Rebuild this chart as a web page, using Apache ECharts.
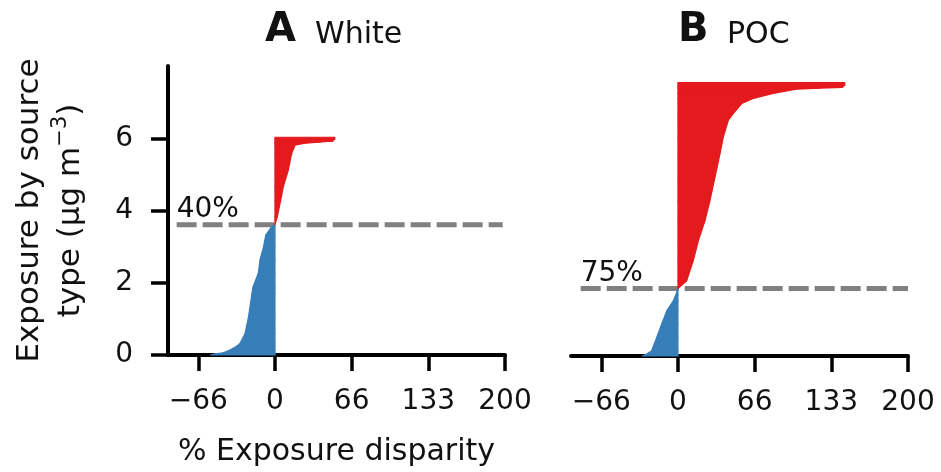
<!DOCTYPE html>
<html lang="en">

<head>
    <meta charset="UTF-8">
    <script src="https://cdn.jsdelivr.net/npm/echarts@6.0.0/dist/echarts.min.js"></script>
    <title>Exposure disparity</title>
    <style>
        html, body { margin: 0; padding: 0; background: #fff; }
        #chart { width: 941px; height: 472px; }
    </style>
</head>

<body>
    <div id="chart"></div>

    <script type="text/javascript">
        // tick positions / labels
        var xTicks = [-200 / 3, 0, 200 / 3, 400 / 3, 200];
        var yTicks = [0, 2, 4, 6];

        // panel A (White): cumulative exposure (y) against disparity (x)
        var whiteBlueX = [-56, -52, -45, -39, -33, -30.5, -26, -23, -20, -19, -14.5, -13, -10, -8, -3, 0];
        var whiteBlueY = [0, 0.03, 0.06, 0.14, 0.25, 0.32, 0.6, 1.06, 1.71, 1.9, 2.27, 2.64, 3.0, 3.33, 3.56, 3.62];
        var whiteRedX = [0, 2, 5, 7.3, 11.6, 14.5, 17.4, 24.7, 40, 50, 52, 52];
        var whiteRedY = [3.62, 3.84, 4.3, 4.68, 5.14, 5.6, 5.83, 5.88, 5.92, 5.94, 6.0, 6.05];

        // panel B (POC)
        var pocBlueX = [-31, -28.7, -23, -18.5, -14.2, -9.8, -4, -2, 0];
        var pocBlueY = [0, 0.03, 0.14, 0.51, 0.88, 1.25, 1.53, 1.68, 1.87];
        var pocRedX = [0, 7.5, 13.3, 17.7, 23.5, 27.8, 32.2, 36.5, 39.4, 43.8, 48, 55.4, 65.5, 82.9, 103, 123.5, 143, 145, 145];
        var pocRedY = [1.87, 2.08, 2.64, 3.19, 3.75, 4.3, 4.95, 5.6, 6.06, 6.53, 6.71, 6.99, 7.13, 7.27, 7.39, 7.42, 7.44, 7.5, 7.57];

        // dashed threshold lines and their labels
        var thresholds = [3.62, 1.87];
        var lineStart = [-85.5, -84.6];
        var lineEnd = [198, 200];
        var shareLabels = ['40%', '75%'];
        var panelLetters = ['A', 'B'];
        var groupNames = ['White', 'POC'];

        var FONT = 'DejaVu Sans';
        var BLUE = '#377eb8';
        var RED = '#e41a1c';
        var INK = '#111111';

        function segments(xs, ys) {
            var out = [];
            for (var i = 0; i < xs.length - 1; i++) {
                out.push([xs[i], ys[i], xs[i + 1], ys[i + 1]]);
            }
            return out;
        }

        function renderBand(params, api) {
            var y0 = api.value(1);
            var y1 = api.value(3);
            var color = api.visual('color');
            return {
                type: 'polygon',
                shape: {
                    points: [
                        api.coord([0, y0]),
                        api.coord([api.value(0), y0]),
                        api.coord([api.value(2), y1]),
                        api.coord([0, y1])
                    ]
                },
                style: { fill: color, stroke: color, lineWidth: 1.2, lineJoin: 'round' }
            };
        }

        function bandSeries(idx, xs, ys, color) {
            return {
                type: 'custom',
                xAxisIndex: idx,
                yAxisIndex: idx,
                renderItem: renderBand,
                encode: { x: [0, 2], y: [1, 3] },
                itemStyle: { color: color },
                silent: true,
                z: 3,
                data: segments(xs, ys)
            };
        }

        function thresholdSeries(idx) {
            return {
                type: 'line',
                xAxisIndex: idx,
                yAxisIndex: idx,
                symbol: 'none',
                silent: true,
                z: 2,
                lineStyle: { color: '#808080', width: 5, type: [20, 6], cap: 'butt' },
                data: [[lineStart[idx], thresholds[idx]], [lineEnd[idx], thresholds[idx]]]
            };
        }

        function labelSeries(idx) {
            return {
                type: 'custom',
                xAxisIndex: idx,
                yAxisIndex: idx,
                silent: true,
                z: 4,
                renderItem: function (params, api) {
                    var p = api.coord([api.value(0), api.value(1)]);
                    return {
                        type: 'text',
                        x: p[0],
                        y: p[1] - 1,
                        style: {
                            text: shareLabels[idx],
                            font: '28px "' + FONT + '"',
                            fill: INK,
                            align: 'left', verticalAlign: 'bottom',
                            textAlign: 'left', textVerticalAlign: 'bottom'
                        }
                    };
                },
                data: [[lineStart[idx], thresholds[idx]]]
            };
        }

        function tickFmt(v) {
            var n = Math.trunc(Math.abs(v) + 1e-9);
            return (v < -1e-9 ? '\u2212' : '') + n;
        }

        function xAxisFor(idx) {
            return {
                type: 'value',
                gridIndex: idx,
                min: -93,
                max: 200,
                splitLine: { show: false },
                axisLine: { onZero: false, lineStyle: { color: '#000', width: 4 } },
                axisTick: { customValues: xTicks, length: 16, lineStyle: { color: '#000', width: 3.5 } },
                axisLabel: {
                    customValues: xTicks, formatter: tickFmt, margin: 33,
                    fontSize: 28, fontFamily: FONT, color: INK
                },
                name: idx === 0 ? '% Exposure disparity' : '',
                nameLocation: 'middle',
                nameGap: 82,
                nameTextStyle: { fontSize: 30, fontFamily: FONT, color: INK }
            };
        }

        var chart = echarts.init(document.getElementById('chart'));

        var titleGraphics = [];
        var titleLeft = [265, 678];
        var nameLeft = [315, 727];
        for (var i = 0; i < 2; i++) {
            titleGraphics.push({
                type: 'text', x: titleLeft[i], y: 51,
                style: {
                    text: panelLetters[i], font: 'bold 40px "' + FONT + '"', fill: INK,
                    align: 'left', verticalAlign: 'bottom', textAlign: 'left', textVerticalAlign: 'bottom'
                }
            });
            titleGraphics.push({
                type: 'text', x: nameLeft[i], y: 50,
                style: {
                    text: groupNames[i], font: '30px "' + FONT + '"', fill: INK,
                    align: 'left', verticalAlign: 'bottom', textAlign: 'left', textVerticalAlign: 'bottom'
                }
            });
        }

        var option = {
            animation: false,
            backgroundColor: '#ffffff',
            graphic: titleGraphics,
            grid: [
                { left: 168, top: 66, width: 337, height: 290 },
                { left: 571, top: 66, width: 337, height: 290 }
            ],
            xAxis: [xAxisFor(0), xAxisFor(1)],
            yAxis: [
                {
                    type: 'value',
                    gridIndex: 0,
                    min: 0,
                    max: 8.03,
                    splitLine: { show: false },
                    axisLine: { show: true, onZero: false, lineStyle: { color: '#000', width: 4 } },
                    axisTick: { show: true, customValues: yTicks, length: 17, lineStyle: { color: '#000', width: 3.5 } },
                    axisLabel: {
                        customValues: yTicks, margin: 35,
                        fontSize: 28, fontFamily: FONT, color: INK
                    },
                    name: 'Exposure by source\ntype (\u00b5g m{sup|\u22123})',
                    nameLocation: 'middle',
                    nameRotate: 90,
                    nameGap: 77,
                    nameTextStyle: {
                        fontSize: 31, fontFamily: FONT, color: INK, lineHeight: 41,
                        rich: {
                            sup: { fontSize: 21, fontFamily: FONT, color: INK, lineHeight: 28, verticalAlign: 'top' }
                        }
                    }
                },
                {
                    type: 'value',
                    gridIndex: 1,
                    min: 0,
                    max: 8.03,
                    show: false
                }
            ],
            series: [
                thresholdSeries(0),
                thresholdSeries(1),
                bandSeries(0, whiteBlueX, whiteBlueY, BLUE),
                bandSeries(0, whiteRedX, whiteRedY, RED),
                bandSeries(1, pocBlueX, pocBlueY, BLUE),
                bandSeries(1, pocRedX, pocRedY, RED),
                labelSeries(0),
                labelSeries(1)
            ]
        };

        chart.setOption(option);
    </script>
</body>

</html>
